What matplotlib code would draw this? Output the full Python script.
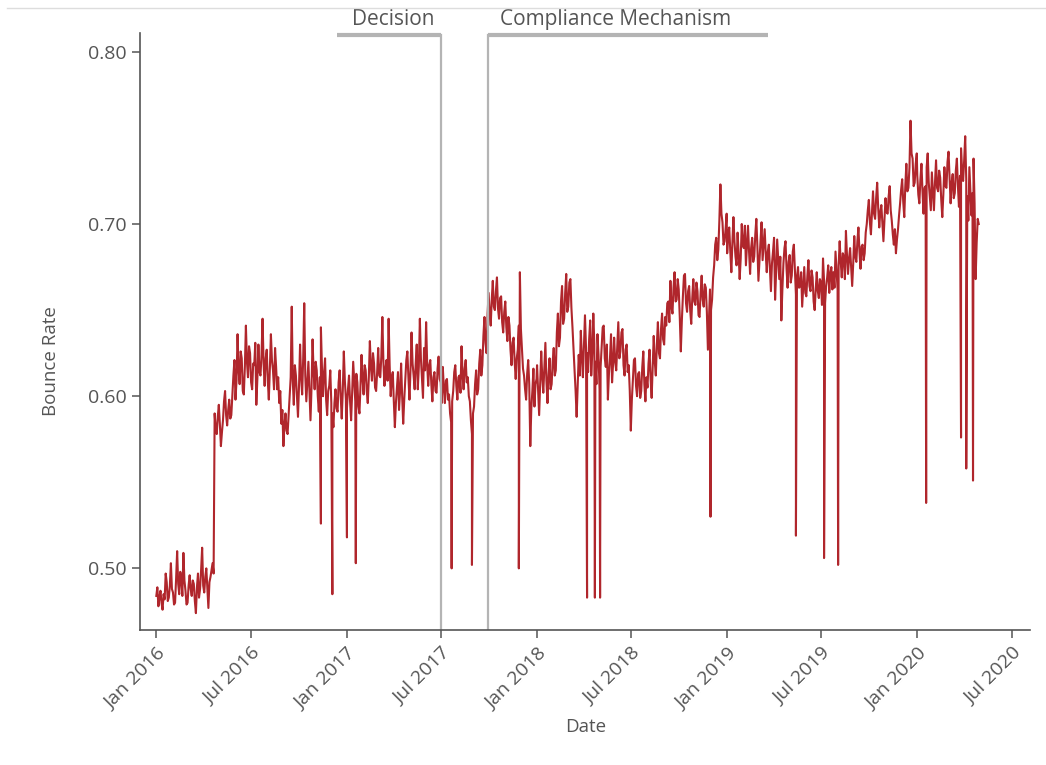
import numpy as np
import pandas as pd
import matplotlib
matplotlib.use("Agg")
import matplotlib.pyplot as plt
import matplotlib.dates as mdates

plt.rcParams['font.family'] = ['Open Sans', 'DejaVu Sans']

# bounce rate, one value every 2 days per year
rate_2016 = [0.484, 0.489, 0.478, 0.483, 0.487, 0.480, 0.476, 0.485, 0.482, 0.497,
             0.492, 0.481, 0.483, 0.490, 0.503, 0.488, 0.486, 0.479, 0.480, 0.494,
             0.510, 0.491, 0.485, 0.498, 0.494, 0.484, 0.509, 0.493, 0.487, 0.479,
             0.480, 0.490, 0.496, 0.488, 0.484, 0.493, 0.491, 0.481, 0.474, 0.489,
             0.497, 0.483, 0.488, 0.499, 0.512, 0.490, 0.486, 0.495, 0.500, 0.489,
             0.477, 0.492, 0.495, 0.499, 0.503, 0.497,
             0.590, 0.581, 0.578, 0.588, 0.595, 0.584, 0.571, 0.579, 0.586, 0.597,
             0.603, 0.589, 0.583, 0.592, 0.598, 0.587, 0.589, 0.601,
             0.612, 0.621, 0.598, 0.609, 0.636, 0.615, 0.607, 0.626, 0.622, 0.603,
             0.601, 0.617, 0.641, 0.620, 0.611, 0.629, 0.625, 0.608, 0.604, 0.619,
             0.618, 0.631, 0.595, 0.610, 0.630, 0.614, 0.612, 0.624, 0.645, 0.619,
             0.606, 0.622, 0.627, 0.609, 0.598, 0.616, 0.636, 0.621, 0.615, 0.604,
             0.628, 0.617, 0.604, 0.611,
             0.596, 0.603, 0.584, 0.592, 0.571, 0.583, 0.590, 0.580, 0.578, 0.589,
             0.600, 0.611,
             0.652, 0.609, 0.595, 0.618, 0.612, 0.600, 0.588, 0.606, 0.630, 0.611,
             0.601, 0.622, 0.654, 0.612, 0.597, 0.609, 0.620, 0.603, 0.586, 0.605,
             0.633, 0.614, 0.604, 0.620, 0.615, 0.600, 0.591, 0.611, 0.640, 0.617,
             0.600, 0.613, 0.622, 0.598, 0.589, 0.603, 0.606, 0.615, 0.596, 0.590,
             0.582, 0.596, 0.604, 0.593, 0.591, 0.608, 0.615, 0.600, 0.587, 0.603,
             0.626, 0.609, 0.598]
rate_2017 = [0.593, 0.604, 0.612, 0.597, 0.586, 0.602, 0.620, 0.608, 0.597, 0.613,
             0.608, 0.594, 0.590, 0.606, 0.624, 0.610, 0.601, 0.618, 0.615, 0.603,
             0.596, 0.611, 0.632, 0.617, 0.609, 0.625, 0.619, 0.605, 0.603, 0.614,
             0.628, 0.612, 0.611, 0.623, 0.646, 0.620, 0.606, 0.616, 0.621, 0.609,
             0.645, 0.618, 0.600, 0.611, 0.614, 0.597, 0.582, 0.596, 0.605, 0.614,
             0.592, 0.603, 0.619, 0.600, 0.584, 0.598, 0.609, 0.621, 0.626, 0.611,
             0.598, 0.615, 0.637, 0.619, 0.612, 0.604, 0.619, 0.630, 0.604, 0.617,
             0.645, 0.622, 0.610, 0.599, 0.628, 0.615, 0.643, 0.619, 0.606, 0.618,
             0.621, 0.607, 0.597, 0.611, 0.614, 0.603, 0.602, 0.616,
             0.623, 0.610, 0.608, 0.596, 0.617, 0.605, 0.596, 0.609, 0.610, 0.598,
             0.601, 0.590, 0.585, 0.597, 0.603, 0.614, 0.618, 0.606, 0.598, 0.611,
             0.612, 0.602, 0.629, 0.613, 0.604, 0.616, 0.621, 0.608, 0.611, 0.600,
             0.597, 0.586, 0.578, 0.590, 0.594, 0.607, 0.615, 0.601, 0.604, 0.619,
             0.627, 0.612, 0.618, 0.635, 0.646, 0.631, 0.625, 0.648,
             0.660, 0.648, 0.641, 0.656, 0.667, 0.652, 0.650, 0.661, 0.669, 0.651,
             0.645, 0.657, 0.658, 0.643, 0.637, 0.649, 0.655, 0.640, 0.632, 0.646,
             0.641, 0.627, 0.618, 0.631, 0.634, 0.620, 0.610, 0.622, 0.627, 0.641,
             0.672, 0.639, 0.628, 0.616, 0.612, 0.604, 0.598, 0.613, 0.621, 0.607,
             0.571, 0.593, 0.603, 0.616, 0.594, 0.607, 0.610]
rate_2018 = [0.618, 0.603, 0.589, 0.608, 0.626, 0.611, 0.602, 0.617, 0.631, 0.609,
             0.596, 0.612, 0.622, 0.604, 0.607, 0.620,
             0.628, 0.612, 0.615, 0.637, 0.648, 0.629, 0.634, 0.655, 0.664, 0.642,
             0.645, 0.660, 0.671, 0.649, 0.652, 0.666, 0.668, 0.651,
             0.640, 0.627, 0.615, 0.603, 0.588, 0.606, 0.624, 0.612, 0.638, 0.623,
             0.611, 0.629, 0.647, 0.628, 0.625, 0.614, 0.633, 0.644, 0.612, 0.625,
             0.648, 0.630, 0.620, 0.607, 0.636, 0.624, 0.604, 0.617, 0.629, 0.640,
             0.641, 0.622, 0.617, 0.630, 0.598, 0.613, 0.622, 0.636, 0.608, 0.619,
             0.634, 0.620, 0.615, 0.629, 0.643, 0.622, 0.626, 0.637, 0.639, 0.618,
             0.612, 0.627, 0.630, 0.614,
             0.618, 0.603, 0.580, 0.598, 0.609, 0.621, 0.622, 0.606, 0.600, 0.613,
             0.614, 0.599, 0.603, 0.617, 0.626, 0.607, 0.597, 0.611,
             0.605, 0.619, 0.627, 0.610, 0.599, 0.618, 0.635, 0.620, 0.612, 0.630,
             0.643, 0.625, 0.622, 0.639, 0.648, 0.633, 0.630, 0.646, 0.641, 0.654,
             0.655, 0.643, 0.667, 0.652, 0.648, 0.663, 0.672, 0.655, 0.656, 0.668,
             0.662, 0.646, 0.626, 0.644, 0.658, 0.670, 0.671, 0.654, 0.649, 0.661,
             0.664, 0.650, 0.642, 0.657, 0.668, 0.655, 0.653, 0.666, 0.661, 0.647,
             0.646, 0.660, 0.670, 0.656, 0.652, 0.665, 0.663, 0.649,
             0.627, 0.645, 0.662, 0.650, 0.656, 0.669,
             0.676, 0.688, 0.692, 0.679, 0.685, 0.702, 0.723, 0.706, 0.701, 0.688,
             0.690, 0.697, 0.706]
rate_2019 = [0.683, 0.694, 0.698, 0.684, 0.672, 0.689, 0.704, 0.690, 0.681, 0.676,
             0.695, 0.683, 0.668, 0.680, 0.700, 0.688, 0.686, 0.699, 0.676, 0.687,
             0.699, 0.684, 0.671, 0.686, 0.692, 0.678, 0.681, 0.694, 0.703, 0.687,
             0.667, 0.679, 0.690, 0.701, 0.679, 0.688, 0.697, 0.683,
             0.672, 0.684, 0.688, 0.674, 0.661, 0.677, 0.684, 0.692, 0.656, 0.672,
             0.691, 0.679, 0.668, 0.681, 0.644, 0.662, 0.677, 0.686, 0.690, 0.674,
             0.663, 0.678, 0.682, 0.666, 0.670, 0.684, 0.688, 0.673, 0.659, 0.669,
             0.675, 0.663,
             0.664, 0.672, 0.652, 0.663, 0.675, 0.660, 0.658, 0.670, 0.679, 0.664,
             0.661, 0.673, 0.669, 0.655, 0.650, 0.662, 0.672, 0.661, 0.657, 0.668,
             0.666, 0.653, 0.680, 0.667, 0.654, 0.664, 0.669, 0.676, 0.660, 0.671,
             0.675, 0.662,
             0.672, 0.663, 0.684, 0.673, 0.662, 0.676, 0.690, 0.678, 0.669, 0.683,
             0.681, 0.668, 0.696, 0.682, 0.671, 0.680, 0.686, 0.675, 0.664, 0.677,
             0.693, 0.681, 0.678, 0.690, 0.698, 0.684, 0.674, 0.687, 0.688, 0.679,
             0.683, 0.695,
             0.700, 0.708, 0.714, 0.701, 0.694, 0.707, 0.719, 0.706, 0.703, 0.715,
             0.724, 0.709, 0.698, 0.707, 0.711, 0.700, 0.690, 0.703, 0.715, 0.707,
             0.706, 0.716, 0.722, 0.708, 0.702, 0.694,
             0.688, 0.697, 0.683, 0.691, 0.697, 0.705,
             0.712, 0.720, 0.726, 0.713, 0.704, 0.722, 0.735, 0.719, 0.721, 0.733,
             0.760, 0.741, 0.738, 0.722, 0.724, 0.735, 0.741]
rate_2020 = [0.728, 0.717, 0.712, 0.726, 0.735, 0.719, 0.706, 0.721, 0.722, 0.733,
             0.741, 0.724, 0.716, 0.708, 0.730, 0.719, 0.708, 0.724, 0.737, 0.721,
             0.719, 0.731, 0.727, 0.714, 0.704, 0.717, 0.733, 0.722, 0.721, 0.736,
             0.742, 0.727, 0.712, 0.724, 0.729, 0.715, 0.718, 0.731, 0.738, 0.722,
             0.710, 0.728, 0.744, 0.730, 0.725, 0.737, 0.751, 0.726, 0.716, 0.702,
             0.733, 0.719, 0.705, 0.718, 0.738, 0.712, 0.668, 0.689, 0.703, 0.700]

# single-day drops
dip_dates = ['2016-11-12', '2016-12-04', '2017-01-01', '2017-01-18', '2017-07-21',
             '2017-08-29', '2017-11-27', '2018-04-07', '2018-04-22', '2018-05-02',
             '2018-11-30', '2019-05-13', '2019-07-06', '2019-08-02', '2020-01-18',
             '2020-03-25', '2020-04-04', '2020-04-17']
dip_values = [0.526, 0.485, 0.518, 0.503, 0.500, 0.502, 0.500, 0.483, 0.483, 0.483,
              0.530, 0.519, 0.506, 0.502, 0.538, 0.576, 0.558, 0.551]

events = ['Decision', 'Compliance Mechanism']
event_dates = ['2017-07-01', '2017-09-28']
bracket_start = ['2016-12-13', '2017-09-28']
bracket_end = ['2017-07-01', '2019-03-20']
label_dates = ['2017-03-30', '2018-05-31']

parts = []
for year, vals in zip([2016, 2017, 2018, 2019, 2020],
                      [rate_2016, rate_2017, rate_2018, rate_2019, rate_2020]):
    d = pd.date_range(f'{year}-01-01', periods=len(vals), freq='2D')
    parts.append(pd.Series(vals, index=d))
parts.append(pd.Series(dip_values, index=pd.to_datetime(dip_dates)))
series = pd.concat(parts).sort_index()

fig = plt.figure(figsize=(10.46, 7.65), dpi=100)
ax = fig.add_axes([0.134, 0.176, 0.851, 0.781])

ax.plot(series.index, series.values, color='#B0262C', lw=1.5)

ax.set_ylim(0.464, 0.811)
ax.set_xlim(pd.Timestamp('2015-12-01'), pd.Timestamp('2020-08-05'))

for name, ev, b0, b1, lab in zip(events, event_dates, bracket_start, bracket_end, label_dates):
    ax.axvline(pd.Timestamp(ev), color='#b4b4b4', lw=1.6, ymax=0.997)
    ax.plot([pd.Timestamp(b0), pd.Timestamp(b1)], [0.810, 0.810], color='#b4b4b4',
            lw=3, clip_on=False, solid_capstyle='butt')
    ax.text(pd.Timestamp(lab), 0.8128, name, ha='center', va='bottom', fontsize=15,
            color='#555555', clip_on=False)

ax.set_yticks([0.5, 0.6, 0.7, 0.8])
ax.yaxis.set_major_formatter(matplotlib.ticker.FormatStrFormatter('%.2f'))
ax.xaxis.set_major_locator(mdates.MonthLocator(bymonth=[1, 7]))
ax.xaxis.set_major_formatter(mdates.DateFormatter('%b %Y'))
plt.setp(ax.get_xticklabels(), rotation=45, ha='right', rotation_mode='anchor')

for s in ['top', 'right']:
    ax.spines[s].set_visible(False)
for s in ['left', 'bottom']:
    ax.spines[s].set_color('#555555')
    ax.spines[s].set_linewidth(1.2)
ax.tick_params(colors='#555555', labelsize=14, length=6, width=1.1)
ax.tick_params(axis='x', pad=4)

ax.set_xlabel('Date', fontsize=13.5, color='#555555', labelpad=4)
ax.set_ylabel('Bounce Rate', fontsize=13.5, color='#555555')
ax.yaxis.set_label_coords(-0.09, 0.45)

fig.add_artist(plt.Line2D([0.007, 1.0], [0.99, 0.99], color='#dddddd', lw=1,
                          transform=fig.transFigure))

fig.savefig('out.png', dpi=100)
